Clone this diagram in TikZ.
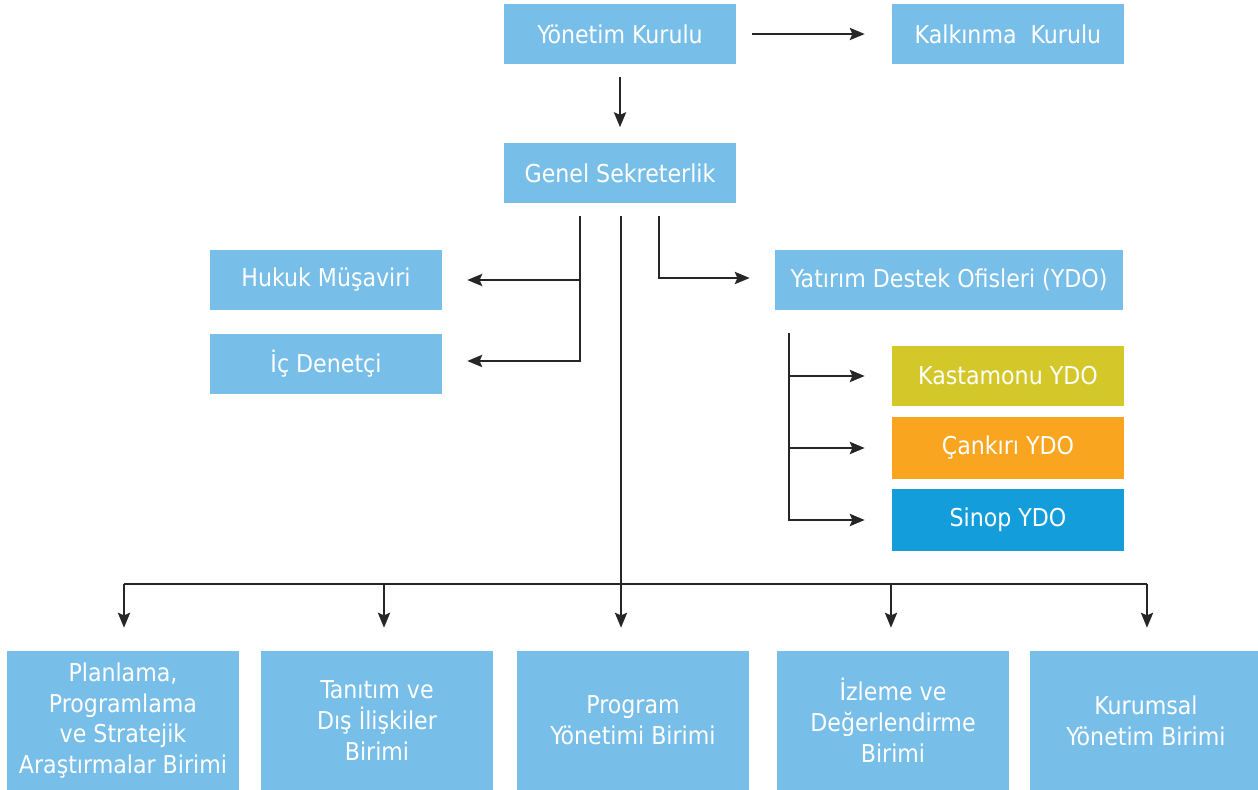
\documentclass[tikz,border=0pt]{standalone}
\usepackage{fontspec}
\setmainfont{DejaVu Sans Condensed}
\usetikzlibrary{
  calc,
  positioning,
  arrows.meta
}
\definecolor{kutumavi}{HTML}{77BEE9}
\definecolor{kastamonu}{HTML}{D3C72A}
\definecolor{cankiri}{HTML}{F9A520}
\definecolor{sinop}{HTML}{139EDB}
\tikzset{%
  birim/.style={fill=kutumavi, text=white, minimum width=4.64cm,
    minimum height=1.22cm, align=center, inner sep=0pt,
    font=\fontsize{14}{17.6}\selectfont}, % every box of the chart
  ok/.style={draw, -{Stealth[length=8.5pt, width=7pt, inset=1.5pt]},
    line width=1pt, black!85} % every connector
}

\begin{document}
\begin{tikzpicture}[x=0.02cm, y=-0.02cm]
  \useasboundingbox (0,0) rectangle (1258,790);
  % top
  \node [birim] (yk) at (620,34) {Yönetim Kurulu};
  \node [birim] (kk) at (1008,34) {Kalkınma\ \ Kurulu};
  \node [birim] (gs) at (620,173) {Genel Sekreterlik};
  % left and right of the secretariat
  \node [birim] (hm) at (326,280) {Hukuk Müşaviri};
  \node [birim] (id) at (326,364) {İç Denetçi};
  \node [birim, minimum width=6.96cm] (ydo) at (949,280) {Yatırım Destek Ofisleri (YDO)};
  \node [birim, fill=kastamonu] (kas) at (1008,376) {Kastamonu YDO};
  \node [birim, fill=cankiri, minimum height=1.24cm] (can) at (1008,448) {Çankırı YDO};
  \node [birim, fill=sinop, minimum height=1.26cm] (sin) at (1008,520) {Sinop YDO};
  % units at the bottom
  \foreach \x/\t [count=\i] in {123/{Planlama,\\Programlama\\ve Stratejik\\Araştırmalar Birimi},
      377/{Tanıtım ve\\Dış İlişkiler\\Birimi},
      633/{Program\\Yönetimi Birimi},
      893/{İzleme ve\\Değerlendirme\\Birimi},
      1146/{Kurumsal\\Yönetim Birimi}}{%
    \node [birim, minimum height=2.78cm] (b\i) at (\x,720.5) {\t};
  }

  \draw [ok, shorten <=0.32cm, shorten >=0.54cm] (yk) -- (kk);
  \draw [ok, shorten <=0.24cm, shorten >=0.3cm] (yk) -- (gs);
  % to the advisers
  \coordinate (sol) at ($(gs.south)+(-40,12)$);
  \draw [ok, shorten >=0.5cm] (sol) |- (hm);
  \draw [ok, shorten >=0.5cm] (sol) |- ($(id.east)+(0,-3)$);
  % to the YDO
  \coordinate (sag) at ($(gs.south)+(39,12)$);
  \draw [ok, shorten >=0.5cm] (sag) |- ($(ydo.west)+(0,-2)$);
  \coordinate (ydoalt) at ($(ydo.south west)+(14,22)$);
  \draw [ok, shorten >=0.54cm] (ydoalt) |- (kas);
  \draw [ok, shorten >=0.54cm] (ydoalt) |- (can);
  \draw [ok, shorten >=0.54cm] (ydoalt) |- (sin);
  % bus to the units
  \coordinate (bus) at ($(gs.south)+(1,380)$);
  \draw [ok, shorten <=0.24cm, shorten >=0.46cm] ($(gs.south)+(1,0)$) -- (bus |- b3.north);
  \draw [line width=1pt, black!85] (bus -| 124,0) -- (bus -| 1147,0);
  \foreach \x/\b in {124/b1, 384/b2, 891/b4, 1147/b5}{%
    \draw [ok, shorten >=0.46cm] (bus -| \x,0) -- (\b.north -| \x,0);
  }
\end{tikzpicture}
\end{document}
